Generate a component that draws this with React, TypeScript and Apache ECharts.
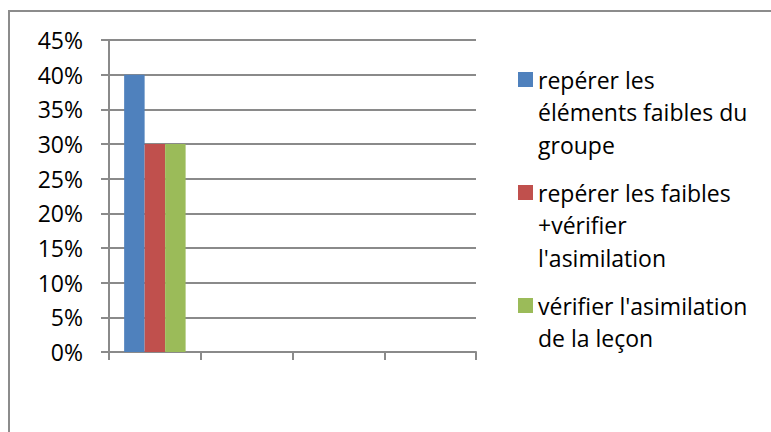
import { useEffect, useRef } from 'react';
import * as echarts from 'echarts';

const categories: string[] = ['Catégorie 1', 'Catégorie 2', 'Catégorie 3', 'Catégorie 4'];
const seriesNames: string[] = [
  "repérer les éléments faibles du groupe",
  "repérer les faibles +vérifier l'asimilation",
  "vérifier l'asimilation de la leçon",
];
const legendLines: string[][] = [
  ['repérer les', 'éléments faibles du', 'groupe'],
  ['repérer les faibles', '+vérifier', "l'asimilation"],
  ["vérifier l'asimilation", 'de la leçon'],
];
const blueValues: (number | null)[] = [0.4, null, null, null];
const redValues: (number | null)[] = [0.3, null, null, null];
const greenValues: (number | null)[] = [0.3, null, null, null];
const seriesColors: string[] = ['#4F81BD', '#C0504D', '#9BBB59'];
const yMin = 0;
const yMax = 0.45;
const yStep = 0.05;

const FONT = 'Open Sans';
const FS = 23;
const LH = 32.5;
const MK = 15;
const legendMarkerTops = [72, 185, 298];

export default function App() {
  const ref = useRef<HTMLDivElement>(null);
  useEffect(() => {
    if (!ref.current) return;
    const chart = echarts.init(ref.current, undefined, { renderer: 'svg' });
    const values = [blueValues, redValues, greenValues];
    const legends = seriesNames.map((name, i) => {
      const n = legendLines[i].length;
      const boundTop = MK / 2 - ((2 * n - 1) * LH) / 2;
      const blanks = new Array(n - 1).fill('');
      return {
        show: true,
        orient: 'vertical',
        left: 518,
        top: legendMarkerTops[i] + boundTop,
        padding: 0,
        itemGap: 0,
        itemWidth: MK,
        itemHeight: MK,
        icon: 'rect',
        data: [name],
        selectedMode: false,
        formatter: () => blanks.concat(legendLines[i]).join('\n'),
        textStyle: {
          fontFamily: FONT,
          fontSize: FS,
          color: '#000',
          lineHeight: LH,
        },
      };
    });
    chart.setOption({
      animation: false,
      backgroundColor: '#ffffff',
      textStyle: { fontFamily: FONT },
      graphic: [
        {
          type: 'rect',
          shape: { x: 9, y: 11, width: 900, height: 600 },
          style: { fill: 'none', stroke: '#8c8c8c', lineWidth: 2 },
          silent: true,
        },
      ],
      legend: legends,
      grid: { left: 109, top: 40, width: 367, height: 312, containLabel: false },
      xAxis: {
        type: 'category',
        data: categories,
        axisLabel: { show: false },
        axisLine: { lineStyle: { color: '#8a8a8a', width: 2 } },
        axisTick: { show: true, length: 8, lineStyle: { color: '#8a8a8a', width: 2 } },
        splitLine: { show: false },
      },
      yAxis: {
        type: 'value',
        min: yMin,
        max: yMax,
        interval: yStep,
        axisLabel: {
          formatter: (v: number) => Math.round(v * 100) + '%',
          fontFamily: FONT,
          fontSize: FS,
          color: '#000',
          margin: 26,
        },
        axisLine: { show: true, lineStyle: { color: '#8a8a8a', width: 2 } },
        axisTick: { show: true, length: 8, lineStyle: { color: '#8a8a8a', width: 2 } },
        splitLine: { show: true, lineStyle: { color: '#8a8a8a', width: 2 } },
      },
      series: seriesNames.map((name, i) => ({
        name,
        type: 'bar',
        data: values[i],
        barGap: '0%',
        barCategoryGap: '33%',
        itemStyle: { color: seriesColors[i] },
      })),
    });
    return () => chart.dispose();
  }, []);
  return (
    <div
      ref={ref}
      style={{ position: 'absolute', left: 0, top: 0, width: 771, height: 432, background: '#fff' }}
    />
  );
}
